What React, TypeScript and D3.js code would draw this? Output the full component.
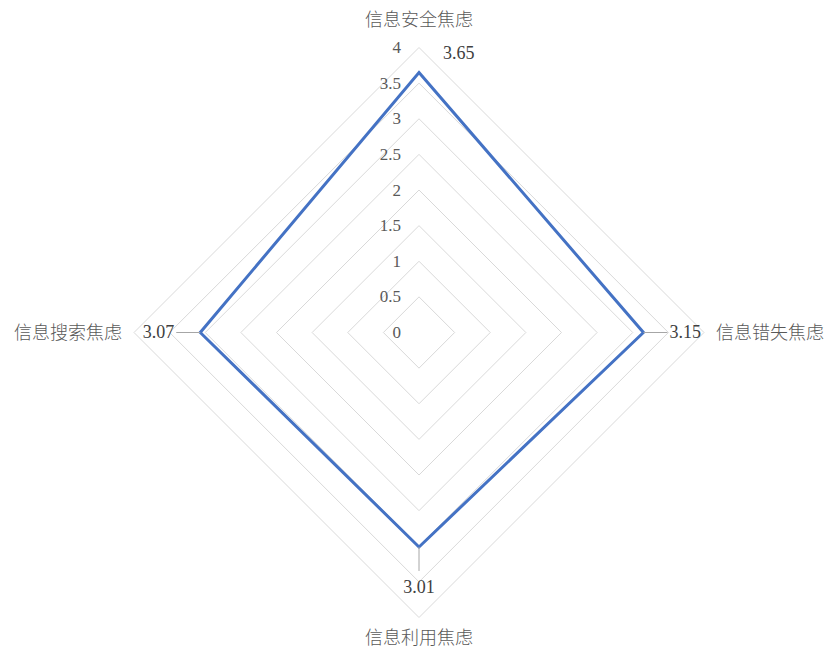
import React from "react";
import * as d3 from "d3";

const categories = ["信息安全焦虑", "信息错失焦虑", "信息利用焦虑", "信息搜索焦虑"];
const values = [3.65, 3.15, 3.01, 3.07];
const ticks = [0, 0.5, 1, 1.5, 2, 2.5, 3, 3.5, 4];

export default function App() {
  const W = 828, H = 650;
  const cx = 419, cy = 332.5, R = 285;
  const r = d3.scaleLinear().domain([0, 4]).range([0, R]);
  const angle = (i: number) => (i / categories.length) * 2 * Math.PI;
  const pt = (i: number, v: number): [number, number] => [
    cx + r(v) * Math.sin(angle(i)),
    cy - r(v) * Math.cos(angle(i)),
  ];
  const line = d3.line<[number, number]>().curve(d3.curveLinearClosed);
  const numFont = "Liberation Serif, Times New Roman, DejaVu Serif, serif";
  const cjkFont = "Noto Sans CJK SC, Noto Sans CJK JP, sans-serif";

  const pts = values.map((v, i) => pt(i, v));

  const dataLabels = values.map((v, i) => {
    const [x, y] = pts[i];
    if (i === 0) return { x: x + 24, y: 53, anchor: "start", lx: null as any };
    if (i === 1) return { x: x + 26, y: y, anchor: "start", lx: [x, y, x + 24, y] };
    if (i === 2) return { x: x, y: y + 40, anchor: "middle", lx: [x, y, x, y + 24] };
    return { x: x - 26, y: y, anchor: "end", lx: [x, y, x - 24, y] };
  });

  const catPos = [
    { x: cx, y: 20, anchor: "middle" },
    { x: 716, y: cy, anchor: "start" },
    { x: cx, y: 638, anchor: "middle" },
    { x: 122, y: cy, anchor: "end" },
  ];

  return (
    <svg width={W} height={H} style={{ position: "absolute", left: 0, top: 0, background: "#fff" }}>
      {ticks.slice(1).map((t) => (
        <path
          key={t}
          d={line(categories.map((_, i) => pt(i, t))) || ""}
          fill="none"
          stroke="#d9d9d9"
          strokeWidth={1}
        />
      ))}
      {ticks.map((t) => (
        <text
          key={t}
          x={cx - 18}
          y={cy - r(t)}
          dy="0.33em"
          textAnchor="end"
          style={{ fontFamily: numFont }}
          fontSize={17}
          fill="#595959"
        >
          {t}
        </text>
      ))}
      <path d={line(pts) || ""} fill="none" stroke="#4472C4" strokeWidth={3} strokeLinejoin="miter" />
      {dataLabels.map((d, i) => (
        <g key={i}>
          {d.lx && (
            <line x1={d.lx[0]} y1={d.lx[1]} x2={d.lx[2]} y2={d.lx[3]} stroke="#a6a6a6" strokeWidth={1} />
          )}
          <text
            x={d.x}
            y={d.y}
            dy="0.33em"
            textAnchor={d.anchor as any}
            style={{ fontFamily: numFont }}
            fontSize={18}
            fill="#404040"
          >
            {values[i].toFixed(2)}
          </text>
        </g>
      ))}
      {categories.map((c, i) => (
        <text
          key={c}
          x={catPos[i].x}
          y={catPos[i].y}
          dy="0.35em"
          textAnchor={catPos[i].anchor as any}
          style={{ fontFamily: cjkFont, fontWeight: 300 }}
          fontSize={18}
          fill="#595959"
        >
          {c}
        </text>
      ))}
    </svg>
  );
}
